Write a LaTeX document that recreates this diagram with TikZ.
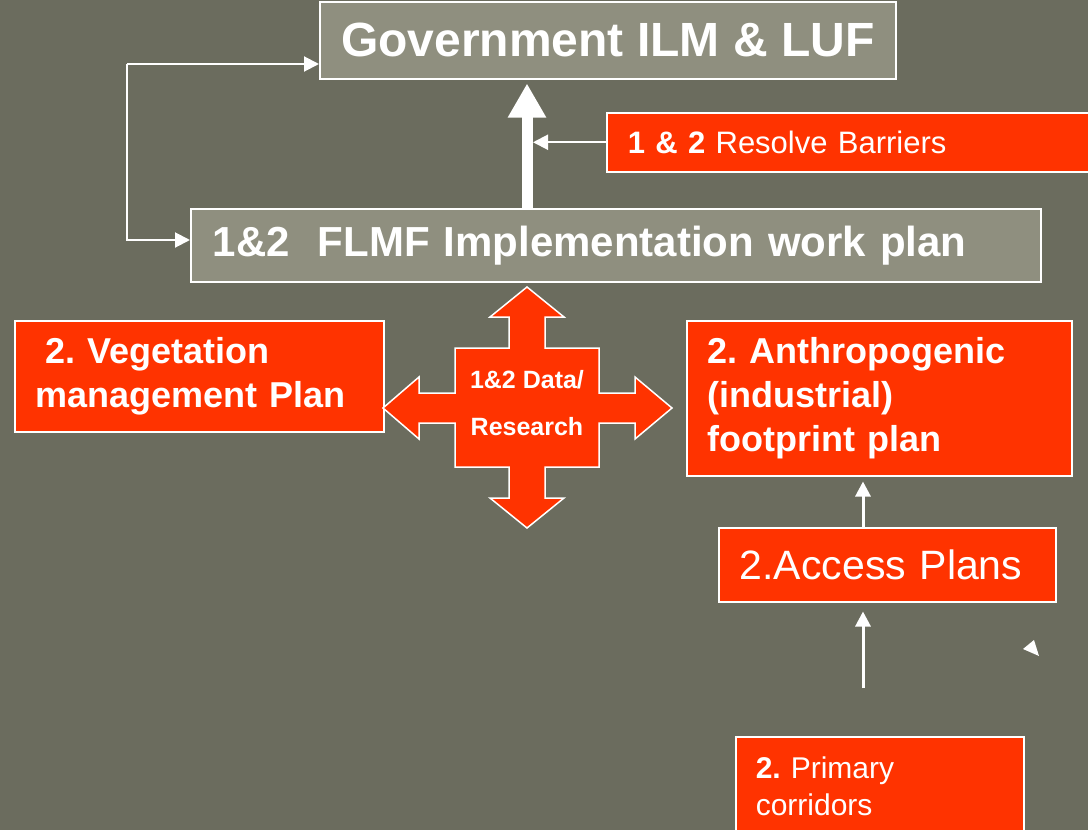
\documentclass[tikz,border=0pt]{standalone}
\usepackage{fontspec}
\setmainfont{Liberation Sans}
\usetikzlibrary{arrows.meta}
\definecolor{slide}{RGB}{107,108,94}
\definecolor{boxGray}{RGB}{143,143,127}
\definecolor{boxRed}{RGB}{255,51,0}
\frenchspacing

\begin{document}
\begin{tikzpicture}[
    x=1pt,y=-1pt,
    planNode/.style={draw=white,line width=1.5pt,fill=boxRed,text=white,
      anchor=north west,inner ysep=0pt,align=left},
    grayNode/.style={planNode,fill=boxGray},
    thinArrow/.style={draw=white,line width=2pt,-{Triangle[width=15pt,length=15pt]}},
    bigArrow/.style={draw=white,line width=11pt,-{Triangle[width=36pt,length=34pt]}},
  ]
    \fill[slide] (0,0) rectangle (1088,830);
    \useasboundingbox (0,0) rectangle (1088,830);

    % top of the plan
    \node[grayNode, minimum width=576pt, minimum height=77pt, align=center,
      font=\fontsize{48}{52}\selectfont\bfseries] (gov) at (319,1) {Government ILM \& LUF};
    \node[grayNode, inner xsep=22pt, text width=806pt, minimum height=73pt,
      font=\fontsize{42}{48}\selectfont\bfseries] (flmf) at (190,208) {1\&2\ \ FLMF Implementation work plan};
    \node[planNode, inner xsep=21pt, text width=448pt, minimum height=59pt,
      font=\fontsize{31}{36}\selectfont] (barrier) at (606,112) {\textbf{1 \& 2} Resolve Barriers};

    \coordinate (up) at (527,208);
    \draw[bigArrow] (up) -- ([yshift=-4pt]up |- gov.south);
    \draw[thinArrow] (barrier.west) -- ([xshift=6pt]barrier.west -| up);

    % loop on the left
    \coordinate (loopTop) at (127,64);
    \coordinate (loopBot) at (127,240);
    \draw[thinArrow] (loopTop) -- (loopTop -| gov.west);
    \draw[thinArrow] (loopTop) -- (loopBot) -- (loopBot -| flmf.west);

    % plans
    \node[planNode, inner xsep=21pt, text width=327pt, minimum height=111pt,
      font=\fontsize{36}{44}\selectfont\bfseries] (veg) at (14,320)
      {\hspace*{10pt}2. Vegetation\\management Plan};
    \node[planNode, inner xsep=21pt, text width=343pt, minimum height=155pt,
      font=\fontsize{36}{44}\selectfont\bfseries] (anthro) at (686,320)
      {2. Anthropogenic\\(industrial)\\footprint plan};
    \node[planNode, inner xsep=21pt, text width=295pt, minimum height=74pt,
      font=\fontsize{41}{46}\selectfont] (access) at (718,527) {2.Access Plans};
    \node[planNode, inner xsep=20pt, text width=248pt, minimum height=99pt,
      font=\fontsize{30}{37}\selectfont] (corridors) at (735,736)
      {\textbf{2.} Primary\\corridors};

    % data / research cross
    \draw[draw=white, line width=1.5pt, fill=boxRed]
      (527,287) -- (564,317) -- (545,317) -- (545,348) -- (599,348) -- (599,393)
      -- (635,393) -- (635,377) -- (672,408) -- (635,439) -- (635,423) -- (599,423)
      -- (599,467) -- (545,467) -- (545,498) -- (564,498) -- (527,528) -- (490,498)
      -- (509,498) -- (509,467) -- (455,467) -- (455,423) -- (419,423) -- (419,439)
      -- (383,408) -- (419,377) -- (419,393) -- (455,393) -- (455,348) -- (509,348)
      -- (509,317) -- (490,317) -- cycle;
    \node[text=white, align=center, font=\fontsize{25}{47}\selectfont\bfseries]
      (data) at (527,403.5) {1\&2 Data/\\Research};

    % access arrows
    \coordinate (riser) at (863,0);
    \coordinate (feed) at (863,688);
    \draw[thinArrow, line width=3pt] (riser |- access.north) -- ([yshift=-5pt]riser |- anthro.south);
    \draw[thinArrow, line width=3pt] (feed) -- ([yshift=-9pt]riser |- access.south);
    \fill[white] (1023,649) -- (1034,640) -- (1039,656) -- cycle;
\end{tikzpicture}
\end{document}
